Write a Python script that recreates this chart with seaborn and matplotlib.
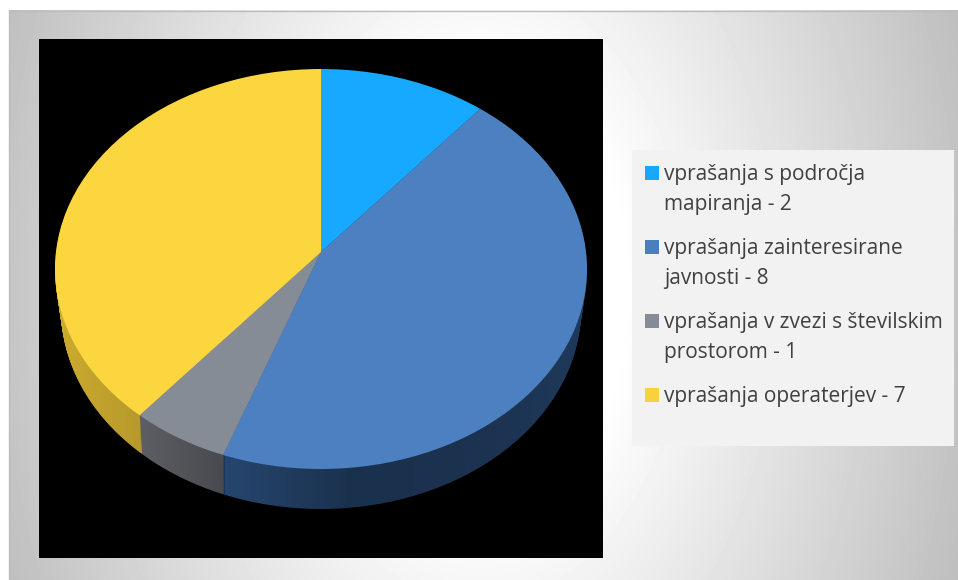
import numpy as np
import matplotlib
matplotlib.use("Agg")
import matplotlib.pyplot as plt
from matplotlib.patches import Ellipse, Rectangle
import seaborn as sns

names = ["vprašanja s področja\nmapiranja", "vprašanja zainteresirane\njavnosti",
         "vprašanja v zvezi s številskim\nprostorom", "vprašanja operaterjev"]
counts = [2, 8, 1, 7]
top_colors = ["#16A9FF", "#4C80C0", "#858C95", "#FBD63F"]
wall_colors = ["#0F6FA8", "#26466F", "#5C5E64", "#CBAA30"]
legend_colors = ["#16A9FF", "#4A7EBF", "#858C95", "#F7D23C"]

sns.set_theme(style="white")
plt.rcParams['font.family'] = ['Open Sans', 'DejaVu Sans']

W, H = 958, 580
fig = plt.figure(figsize=(W / 100, H / 100), dpi=100, facecolor="white")

# page layer in pixel coordinates
page = fig.add_axes([0, 0, 1, 1], zorder=0)
page.set_xlim(0, W)
page.set_ylim(H, 0)
page.axis("off")
yy, xx = np.mgrid[10:H, 9:W]
r = np.sqrt(((xx - 480) / 480) ** 2 + (0.4 * (yy - 290) / 290) ** 2)
shade = (255 - 59 * np.clip((r - 0.3) / 0.7, 0, None)) / 255
page.imshow(shade, cmap="gray", vmin=0, vmax=1, extent=(9, W, H, 10), aspect="auto", zorder=0)
page.set_xlim(0, W)
page.set_ylim(H, 0)
page.plot([9, W], [10.5, 10.5], color="#BDBDBD", lw=1, zorder=1)
page.plot([9.5, 9.5], [10, H], color="#BDBDBD", lw=1, zorder=1)

# legend panel
page.add_patch(Rectangle((632, 150), 322, 296, facecolor="#F2F2F2", edgecolor="none", zorder=2))
y = 173
for name, n, c in zip(names, counts, sns.color_palette(legend_colors)):
    page.add_patch(Rectangle((645, y - 7), 14, 14, facecolor=c, edgecolor="none", zorder=3))
    label = f"{name} - {n}"
    for line in label.split("\n"):
        page.text(664, y + 7, line, color="#404040", fontsize=15.0, va="baseline", ha="left", zorder=3)
        y += 30
    y += 14

# chart plot area: one data unit = 265 px across and 200 px down, apex at (321, 252)
SX, SY = 265.0, 200.0
ax = fig.add_axes([39 / W, 1 - 558 / H, (603 - 39) / W, (558 - 39) / H], zorder=1)
xlim = ((39 - 321) / SX, (603 - 321) / SX)
ylim = ((252 - 558) / SY, (252 - 39) / SY)
ELL_OFF = -17 / SY


def draw_pie(colors, d):
    drop = d / SY
    rx = (266 - 6 * d / 40) / SX
    wedges, _ = ax.pie(counts, colors=colors, startangle=90, counterclock=False,
                       radius=1.6, center=(0, -drop),
                       wedgeprops=dict(linewidth=0, antialiased=True))
    clip = Ellipse((0, ELL_OFF - drop), 2 * rx, 2.0, transform=ax.transData)
    for w in wedges:
        w.set_clip_path(clip)
        w.set_clip_on(True)
    return wedges


for d in range(40, 0, -1):
    draw_pie(wall_colors, d)

# wall shading across the width (black over a black ground stays black)
px = np.arange(39, 603)
alpha = np.interp(px, [39, 60, 140, 141, 224, 225, 350, 480, 587, 603],
                  [0.0, 0.0, 0.10, 0.0, 0.22, 0.0, 0.30, 0.28, 0.18, 0.18])
rgba = np.zeros((1, px.size, 4))
rgba[..., 3] = alpha
ax.imshow(rgba, extent=(xlim[0], xlim[1], ylim[0], ylim[1]), aspect="auto", zorder=2)

for w in draw_pie(top_colors, 0):
    w.set_zorder(3)

ax.set_aspect("auto")
ax.set_xlim(*xlim)
ax.set_ylim(*ylim)
ax.set_frame_on(True)
ax.set_facecolor("black")
ax.set_xticks([])
ax.set_yticks([])
for s in ax.spines.values():
    s.set_visible(False)

fig.savefig("out.png", dpi=100, facecolor="white")
